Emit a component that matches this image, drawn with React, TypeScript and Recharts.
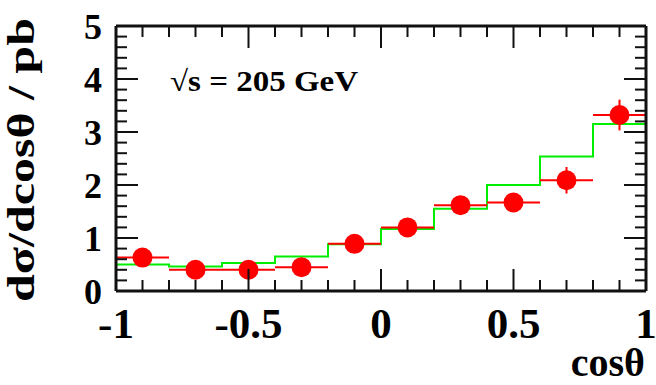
import React from 'react';
import { ComposedChart, XAxis, YAxis, Line, Scatter, ErrorBar, Customized } from 'recharts';

// measured data points (bin centres, values, errors)
const binCenters = [-0.9, -0.7, -0.5, -0.3, -0.1, 0.1, 0.3, 0.5, 0.7, 0.9];
const binHalfWidths = [0.1, 0.1, 0.1, 0.1, 0.1, 0.1, 0.1, 0.1, 0.1, 0.1];
const dataValues = [0.63, 0.4, 0.4, 0.45, 0.89, 1.2, 1.62, 1.67, 2.09, 3.32];
const dataErrors = [0.1, 0.08, 0.08, 0.08, 0.1, 0.12, 0.13, 0.15, 0.25, 0.29];

// MC histogram
const binEdges = [-1, -0.8, -0.6, -0.4, -0.2, 0, 0.2, 0.4, 0.6, 0.8, 1];
const mcValues = [0.5, 0.46, 0.53, 0.65, 0.88, 1.17, 1.55, 2.0, 2.54, 3.15];

// ticks
const xMajorTicks = [-1, -0.5, 0, 0.5, 1];
const xAllTicks = [-1, -0.9, -0.8, -0.7, -0.6, -0.5, -0.4, -0.3, -0.2, -0.1, 0, 0.1, 0.2, 0.3, 0.4, 0.5, 0.6, 0.7, 0.8, 0.9, 1];
const yMajorTicks = [0, 1, 2, 3, 4, 5];
const yAllTicks = [0, 0.2, 0.4, 0.6, 0.8, 1, 1.2, 1.4, 1.6, 1.8, 2, 2.2, 2.4, 2.6, 2.8, 3, 3.2, 3.4, 3.6, 3.8, 4, 4.2, 4.4, 4.6, 4.8, 5];
const xTickLabels = ['-1', '-0.5', '0', '0.5', '1'];
const yTickLabels = ['0', '1', '2', '3', '4', '5'];

const pointData = binCenters.map((x, i) => ({ x, y: dataValues[i], ex: binHalfWidths[i], ey: dataErrors[i] }));
const histData = [
  { x: binEdges[0], y: 0 },
  ...mcValues.map((v, i) => ({ x: binEdges[i], y: v })),
  { x: binEdges[binEdges.length - 1], y: mcValues[mcValues.length - 1] },
  { x: binEdges[binEdges.length - 1], y: 0 },
];

// layout
const CHART_W = 656;
const CHART_H = 385;
const MARGIN = { top: 26, right: 10, bottom: 54, left: 56 };
const X_AXIS_H = 40;
const Y_AXIS_W = 60;
const PLOT_W = CHART_W - MARGIN.left - MARGIN.right - Y_AXIS_W;
const PLOT_H = CHART_H - MARGIN.top - MARGIN.bottom - X_AXIS_H;

const FONT = 'Liberation Serif';
const MAJ = 22;
const MIN = 11;
const TICK_W = 2;
const FRAME_W = 3;
const INK = '#111111';

// bottom axis: inward ticks at bottom and top, labels, and the horizontal frame edges
const BottomTick = (p: any) => {
  const v = p.payload.value;
  const k = xMajorTicks.indexOf(v);
  const len = k >= 0 ? MAJ : MIN;
  const top = p.y - PLOT_H;
  return (
    <g>
      <path d={`M${p.x},${p.y}L${p.x},${p.y - len}`} stroke={INK} strokeWidth={TICK_W} fill="none" />
      <path d={`M${p.x},${top}L${p.x},${top + len}`} stroke={INK} strokeWidth={TICK_W} fill="none" />
      {v === xAllTicks[0] && (
        <path d={`M${p.x},${p.y}L${p.x + PLOT_W},${p.y}`} stroke={INK} strokeWidth={FRAME_W} fill="none" />
      )}
      {v === xAllTicks[0] && (
        <path d={`M${p.x},${top}L${p.x + PLOT_W},${top}`} stroke={INK} strokeWidth={FRAME_W} fill="none" />
      )}
      {k >= 0 && (
        <text x={p.x} y={p.y + 16} dy="0.71em" textAnchor="middle" fontSize={43} fontWeight="bold" fontFamily={FONT} fill="#000">
          {xTickLabels[k]}
        </text>
      )}
    </g>
  );
};

// left axis: inward ticks at left and right, labels, and the vertical frame edges
const LeftTick = (p: any) => {
  const v = p.payload.value;
  const k = yMajorTicks.indexOf(v);
  const len = k >= 0 ? MAJ : MIN;
  const right = p.x + PLOT_W;
  return (
    <g>
      <path d={`M${p.x},${p.y}L${p.x + len},${p.y}`} stroke={INK} strokeWidth={TICK_W} fill="none" />
      <path d={`M${right},${p.y}L${right - len},${p.y}`} stroke={INK} strokeWidth={TICK_W} fill="none" />
      {v === yAllTicks[0] && (
        <path d={`M${p.x},${p.y}L${p.x},${p.y - PLOT_H}`} stroke={INK} strokeWidth={FRAME_W} fill="none" />
      )}
      {v === yAllTicks[0] && (
        <path d={`M${right},${p.y}L${right},${p.y - PLOT_H}`} stroke={INK} strokeWidth={FRAME_W} fill="none" />
      )}
      {k >= 0 && (
        <text x={p.x - 14} y={p.y} dy="0.36em" textAnchor="end" fontSize={36} fontWeight="bold" fontFamily={FONT} fill="#000">
          {yTickLabels[k]}
        </text>
      )}
    </g>
  );
};

const RedDot = (props: any) => <circle cx={props.cx} cy={props.cy} r={10} fill="#ff0000" />;

const Texts = () => (
  <g fontFamily={FONT} fontWeight="bold" fill="#000">
    <text x={170} y={91} fontSize={29} textLength={188} lengthAdjust="spacingAndGlyphs">√s = 205 GeV</text>
    <text x={645} y={376} fontSize={40} textAnchor="end">cosθ</text>
    <text x={34} y={160} fontSize={38} textAnchor="middle" textLength={284} lengthAdjust="spacingAndGlyphs" transform="rotate(-90 34 160)">dσ/dcosθ / pb</text>
  </g>
);

const xDom: [number, number] = [-1, 1];
const yDom: [number, number] = [0, 5];

export default function App() {
  return (
    <div style={{ position: 'absolute', left: 0, top: 0, background: '#fff' }}>
      <ComposedChart width={CHART_W} height={CHART_H} margin={MARGIN}>
        <XAxis xAxisId="main" type="number" dataKey="x" domain={xDom} ticks={xAllTicks} interval={0}
          tickLine={false} axisLine={false} tickSize={0} tickMargin={0} height={X_AXIS_H} tick={BottomTick} />
        <YAxis yAxisId="main" type="number" dataKey="y" domain={yDom} ticks={yAllTicks} interval={0}
          tickLine={false} axisLine={false} tickSize={0} tickMargin={0} width={Y_AXIS_W} tick={LeftTick} />

        <Line xAxisId="main" yAxisId="main" data={histData} dataKey="y" type="stepAfter" stroke="#00ee00" strokeWidth={2}
          dot={false} activeDot={false} isAnimationActive={false} />
        <Scatter xAxisId="main" yAxisId="main" data={pointData} dataKey="y" shape={RedDot} isAnimationActive={false}>
          <ErrorBar dataKey="ex" direction="x" width={0} stroke="#ff0000" strokeWidth={2} isAnimationActive={false} />
          <ErrorBar dataKey="ey" direction="y" width={0} stroke="#ff0000" strokeWidth={2} isAnimationActive={false} />
        </Scatter>
        <Customized component={Texts} />
      </ComposedChart>
    </div>
  );
}
